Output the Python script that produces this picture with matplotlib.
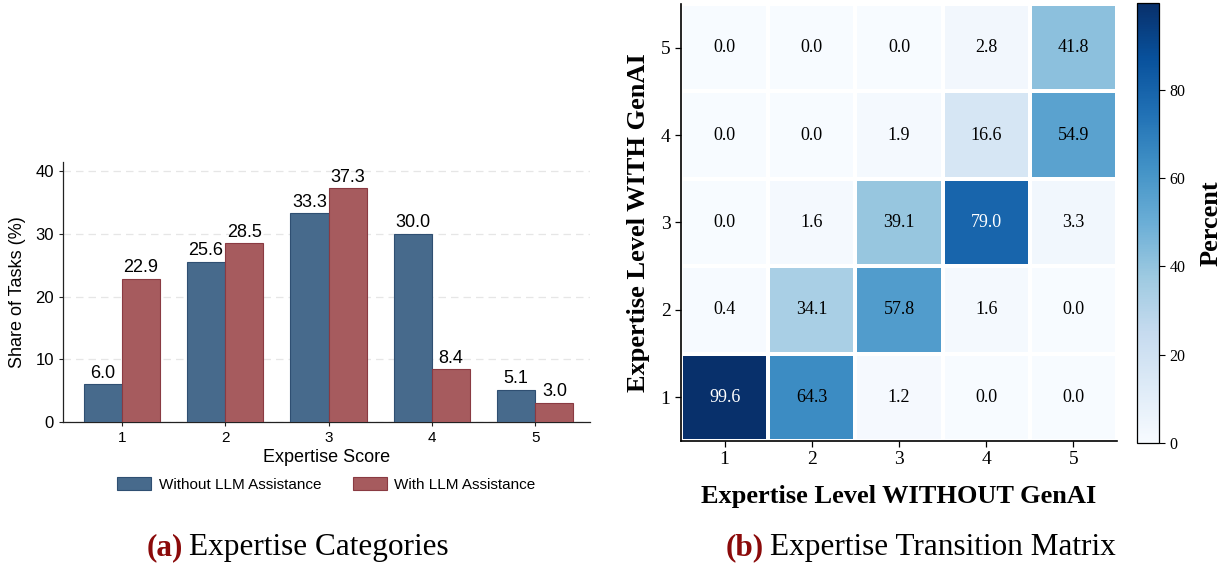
import numpy as np
import matplotlib
matplotlib.use("Agg")
import matplotlib.pyplot as plt
from matplotlib.colors import Normalize

# ---------------- data ----------------
scores = [1, 2, 3, 4, 5]
without_llm = [6.0, 25.6, 33.3, 30.0, 5.1]
with_llm = [22.9, 28.5, 37.3, 8.4, 3.0]
series_names = ["Without LLM Assistance", "With LLM Assistance"]

levels = [1, 2, 3, 4, 5]
# rows: level WITH GenAI (1..5), cols: level WITHOUT GenAI (1..5)
row_with_1 = [99.6, 64.3, 1.2, 0.0, 0.0]
row_with_2 = [0.4, 34.1, 57.8, 1.6, 0.0]
row_with_3 = [0.0, 1.6, 39.1, 79.0, 3.3]
row_with_4 = [0.0, 0.0, 1.9, 16.6, 54.9]
row_with_5 = [0.0, 0.0, 0.0, 2.8, 41.8]
cbar_ticks = [0, 20, 40, 60, 80]

W, H = 1225, 567
fig = plt.figure(figsize=(W / 100, H / 100), dpi=100)


def px_axes(left, top, right, bottom):
    return fig.add_axes([left / W, 1 - bottom / H, (right - left) / W, (bottom - top) / H])


# ---------------- (a) bar chart ----------------
sans = "Liberation Sans"
ax = px_axes(63, 162, 590, 422)
x = np.array(scores, dtype=float)
bw = 0.37
blue, blue_edge = "#476a8c", "#2f4f72"
red, red_edge = "#a65b5e", "#8a3a42"
b1 = ax.bar(x - bw / 2, without_llm, bw, color=blue, edgecolor=blue_edge, linewidth=0.8,
            label=series_names[0], zorder=3)
b2 = ax.bar(x + bw / 2, with_llm, bw, color=red, edgecolor=red_edge, linewidth=0.8,
            label=series_names[1], zorder=3)
for bars in (b1, b2):
    ax.bar_label(bars, fmt="%.1f", padding=2, fontsize=13, family=sans)
ax.set_xlim(0.43, 5.53)
ax.set_ylim(0, 41.5)
ax.set_yticks([0, 10, 20, 30, 40])
ax.set_xticks(scores)
ax.tick_params(axis="y", labelsize=12, length=3, width=0.8, color="#222222")
ax.tick_params(axis="x", labelsize=11, length=3, width=0.8, color="#222222")
for lab in ax.get_xticklabels() + ax.get_yticklabels():
    lab.set_family(sans)
ax.yaxis.grid(True, linestyle=(0, (6, 4)), color="#e6e6e6", linewidth=0.9, zorder=0)
ax.set_axisbelow(True)
for s in ("top", "right"):
    ax.spines[s].set_visible(False)
for s in ("left", "bottom"):
    ax.spines[s].set_color("#222222")
    ax.spines[s].set_linewidth(0.9)
ax.set_xlabel("Expertise Score", fontsize=13, family=sans, labelpad=3)
ax.set_ylabel("Share of Tasks (%)", fontsize=13, family=sans, labelpad=7)
leg = ax.legend(loc="center", bbox_to_anchor=(0.5, -0.24), ncol=2, frameon=False,
                prop={"family": sans, "size": 11}, handlelength=2.2, handleheight=0.9,
                columnspacing=2.1, handletextpad=0.5)

# ---------------- (b) heatmap ----------------
serif = "Liberation Serif"
hx = px_axes(681, 4, 1117, 441)
mat = np.array([row_with_1, row_with_2, row_with_3, row_with_4, row_with_5])
cmap = plt.get_cmap("Blues")
norm = Normalize(vmin=0, vmax=mat.max())
edges = np.arange(0.5, 6.0, 1.0)
mesh = hx.pcolormesh(edges, edges, mat, cmap=cmap, norm=norm, edgecolors="white", linewidth=1.6)
for i, lw in enumerate(levels):
    for j, lwo in enumerate(levels):
        v = mat[i, j]
        r, g, b, _ = cmap(norm(v))
        lum = 0.2126 * r + 0.7152 * g + 0.0722 * b
        hx.text(lwo, lw, f"{v:.1f}", ha="center", va="center", fontsize=13, family=serif,
                color="white" if lum < 0.45 else "black")
hx.set_xlim(0.5, 5.5)
hx.set_ylim(0.5, 5.5)
hx.set_xticks(levels)
hx.set_yticks(levels)
hx.tick_params(axis="both", labelsize=14, length=4, width=0.9)
for lab in hx.get_xticklabels() + hx.get_yticklabels():
    lab.set_family(serif)
for s in ("top", "right"):
    hx.spines[s].set_visible(False)
for s in ("left", "bottom"):
    hx.spines[s].set_linewidth(1.2)
hx.set_xlabel("Expertise Level WITHOUT GenAI", fontsize=19, family=serif, weight="bold", labelpad=12)
hx.set_ylabel("Expertise Level WITH GenAI", fontsize=19, family=serif, weight="bold", labelpad=8)

cax = px_axes(1137, 3, 1159, 443)
cb = fig.colorbar(mesh, cax=cax, ticks=cbar_ticks)
cb.outline.set_linewidth(0.9)
cb.ax.tick_params(labelsize=11.5, length=4, width=0.8)
for lab in cb.ax.get_yticklabels():
    lab.set_family(serif)
cb.set_label("Percent", fontsize=19, family=serif, weight="bold", labelpad=10)

# ---------------- captions ----------------
fig.canvas.draw()
renderer = fig.canvas.get_renderer()


def caption(x_left, tag, text):
    y = 1 - 548 / H
    t1 = fig.text(x_left / W, y, tag, fontsize=22.5, family=serif, weight="bold",
                  color="#8b0a0a", ha="left", va="center")
    bb = t1.get_window_extent(renderer)
    fig.text((bb.x1 + 6) / W, y, text, fontsize=22.5, family=serif, color="black",
             ha="left", va="center")


caption(147, "(a)", "Expertise Categories")
caption(726, "(b)", "Expertise Transition Matrix")

fig.savefig("out.png", dpi=100)
